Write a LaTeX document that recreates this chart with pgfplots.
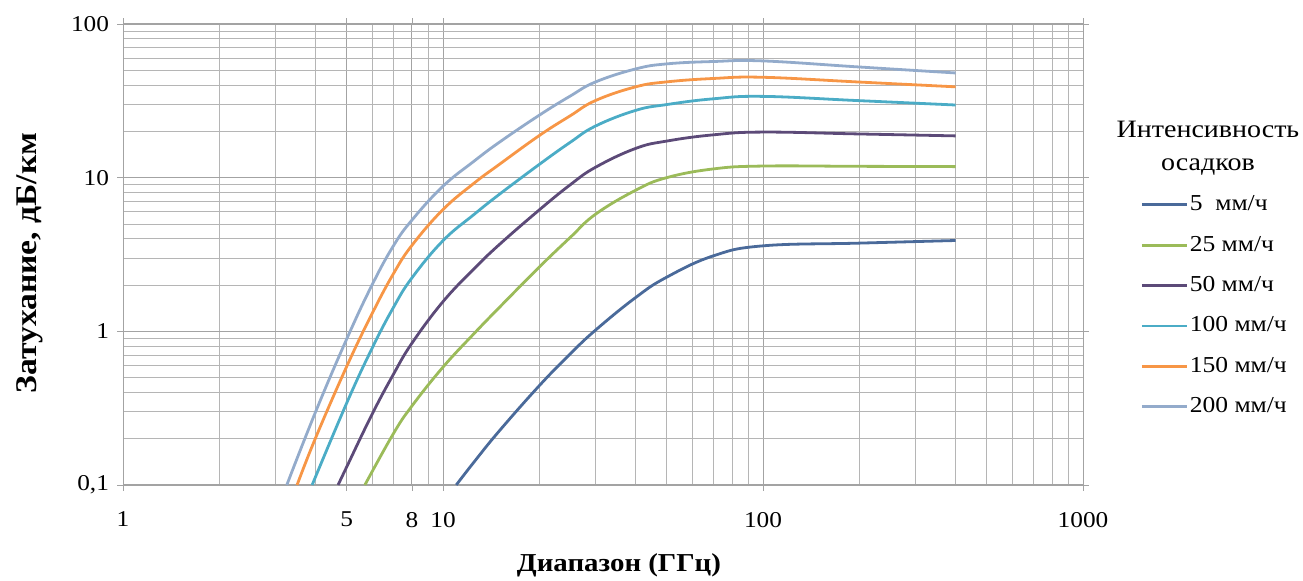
\documentclass[border=0pt]{standalone}
\usepackage{fontspec}
\setmainfont{Liberation Serif}[FakeStretch=1.12]
\usepackage{pgfplots}
\pgfplotsset{compat=1.18}
\definecolor{cA}{HTML}{4A6A9A}
\definecolor{cB}{HTML}{9BBB59}
\definecolor{cC}{HTML}{5C4A78}
\definecolor{cD}{HTML}{4BACC6}
\definecolor{cE}{HTML}{F79646}
\definecolor{cF}{HTML}{93ABCB}
\begin{document}
\begin{tikzpicture}[x=1pt,y=1pt]
\path[use as bounding box] (0,0) rectangle (651.5,290.5);
\begin{axis}[
  at={(61.5pt,48pt)}, anchor=south west,
  scale only axis, width=480pt, height=230.5pt,
  xmode=log, ymode=log, xmin=1, xmax=1000, ymin=0.1, ymax=100,
  xtick={1,5,8,10,100,1000}, xticklabels={1,5,8,10,100,1000},
  ytick={0.1,1,10,100}, yticklabels={{0,1},1,10,100},
  minor xtick={2,3,4,6,7,9,20,30,40,50,60,70,80,90,200,300,400,500,600,700,800,900},
  minor ytick={0.2,0.3,0.4,0.5,0.6,0.7,0.8,0.9,2,3,4,5,6,7,8,9,20,30,40,50,60,70,80,90},
  grid=both,
  major grid style={gray!72, line width=0.5pt},
  minor grid style={gray!58, line width=0.4pt},
  axis line style={gray!72},
  tick align=outside, major tick length=3pt, minor tick length=0pt,
  tick style={gray!72},
  tick label style={font=\fontsize{11.3}{13}\selectfont},
  xticklabel style={yshift=-7pt},
  yticklabel style={xshift=-0.5pt},
  clip=false,
  legend style={at={(1.0594,0.634)}, anchor=north west, draw=none, fill=none,
    font=\fontsize{11.4}{13}\selectfont, row sep=8.6pt, inner sep=0pt,
    nodes={inner sep=0.8pt, text height=8pt, text depth=2pt}},
  legend cell align=left,
  legend image code/.code={\draw[#1] (0pt,0pt) -- (22.5pt,0pt);},
  every axis plot/.append style={line width=1.4pt, smooth, tension=0.7, no marks},
]
\addplot[cA] coordinates {(11,0.1)(12.5,0.141)(15,0.225)(20,0.443)(25,0.714)(30,1.02)(40,1.66)(50,2.25)(70,3.1)(100,3.6)(200,3.75)(400,3.9)};
\addlegendentry{5\ \ мм/ч}
\addplot[cB] coordinates {(5.7,0.1)(7,0.216)(8,0.327)(10,0.585)(12.5,0.966)(15,1.43)(20,2.62)(25,4.09)(30,5.79)(40,8.28)(50,10)(70,11.4)(100,11.9)(200,11.85)(400,11.8)};
\addlegendentry{25 мм/ч}
\addplot[cC] coordinates {(4.7,0.1)(5,0.131)(6,0.288)(7,0.525)(8,0.838)(10,1.56)(12.5,2.55)(15,3.67)(20,6.17)(25,9.0)(30,11.7)(40,15.5)(50,17.3)(70,19.0)(100,19.8)(200,19.25)(400,18.7)};
\addlegendentry{50 мм/ч}
\addplot[cD] coordinates {(3.9,0.1)(5,0.341)(6,0.774)(7,1.43)(8,2.23)(10,3.89)(12.5,5.76)(15,7.79)(20,12.2)(25,17)(30,21.7)(40,27.4)(50,29.9)(70,32.6)(100,33.8)(200,31.7)(400,29.7)};
\addlegendentry{100 мм/ч}
\addplot[cE] coordinates {(3.5,0.1)(4,0.203)(5,0.59)(6,1.30)(7,2.37)(8,3.63)(10,6.2)(12.5,9.2)(15,12.2)(20,18.8)(25,25.3)(30,31.8)(40,39)(50,42)(70,44.2)(100,45)(200,41.9)(400,39)};
\addlegendentry{150 мм/ч}
\addplot[cF] coordinates {(3.25,0.1)(4,0.30)(5,0.89)(6,2.0)(7,3.6)(8,5.3)(10,8.8)(12.5,12.8)(15,17)(20,25.5)(25,34)(30,42)(40,51)(50,55)(70,57)(100,57.5)(200,52.5)(400,48)};
\addlegendentry{200 мм/ч}
\end{axis}
\node[font=\fontsize{12.5}{16.5}\selectfont, align=center] at (604,216.5) {Интенсивность\\осадков};
\node[font=\bfseries\fontsize{12.9}{15}\selectfont] at (309.5,8) {Диапазон (ГГц)};
\node[font=\bfseries\fontsize{15}{17}\selectfont, rotate=90] at (15,159) {Затухание, дБ/км};
\end{tikzpicture}
\end{document}
